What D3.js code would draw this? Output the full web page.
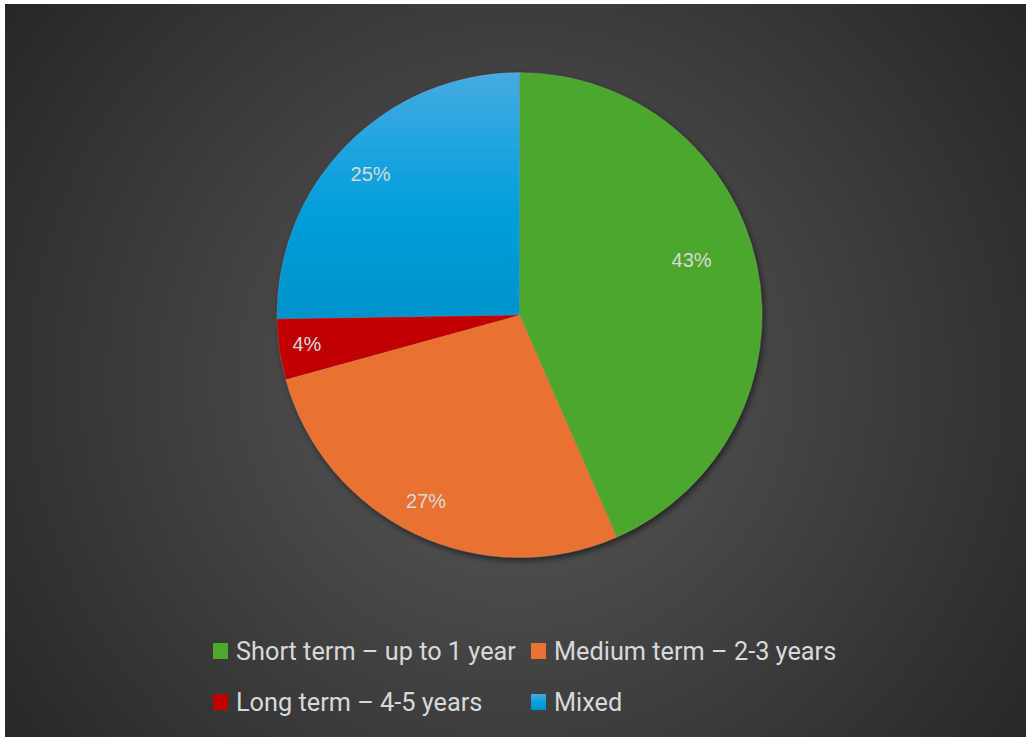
<!DOCTYPE html>
<html>
<head>
<meta charset="utf-8">
<script src="https://cdn.jsdelivr.net/npm/d3@7"></script>
<style>
  html, body { margin: 0; padding: 0; background: #ffffff; }
  svg { display: block; }
</style>
</head>
<body>
<svg id="chart" width="1026" height="737"></svg>
<script>
// Investment horizon shares
const categories = [
  "Short term \u2013 up to 1 year",
  "Medium term \u2013 2-3 years",
  "Long term \u2013 4-5 years",
  "Mixed"
];
const shares = [43, 27, 4, 25];
const labelSuffix = "%";

const W = 1026, H = 737;
const svg = d3.select("#chart");
const defs = svg.append("defs");

// dark radial backdrop
const bg = defs.append("radialGradient")
  .attr("id", "bgGrad")
  .attr("gradientUnits", "userSpaceOnUse")
  .attr("cx", 515).attr("cy", 380).attr("r", 640);
bg.append("stop").attr("offset", 0).attr("stop-color", "#5a5a5a");
bg.append("stop").attr("offset", 1).attr("stop-color", "#262626");

// blue slice shading, lighter at the top
const blue = defs.append("linearGradient")
  .attr("id", "blueGrad")
  .attr("x1", 0).attr("y1", 0).attr("x2", 0).attr("y2", 1);
blue.append("stop").attr("offset", 0).attr("stop-color", "#46aae2");
blue.append("stop").attr("offset", 0.5).attr("stop-color", "#07a0dd");
blue.append("stop").attr("offset", 1).attr("stop-color", "#0093cc");

// soft shadow under the pie
const shadow = defs.append("filter").attr("id", "pieShadow")
  .attr("x", "-10%").attr("y", "-10%").attr("width", "120%").attr("height", "120%");
shadow.append("feDropShadow")
  .attr("dx", 2).attr("dy", 3).attr("stdDeviation", 3)
  .attr("flood-color", "#000").attr("flood-opacity", 0.55);

svg.append("rect")
  .attr("x", 5).attr("y", 4)
  .attr("width", W - 5).attr("height", H - 4)
  .attr("fill", "url(#bgGrad)");

const color = d3.scaleOrdinal()
  .domain(categories)
  .range(["#4ea72e", "#e97132", "#c00000", "url(#blueGrad)"]);

const cx = 519.5, cy = 315, R = 242.5;

const pie = d3.pie().sort(null).value(d => d.value);
const arcs = pie(categories.map((c, i) => ({ name: c, value: shares[i] })));
const arc = d3.arc().innerRadius(0).outerRadius(R);

const g = svg.append("g").attr("transform", `translate(${cx},${cy})`);

g.append("g").attr("filter", "url(#pieShadow)")
  .selectAll("path")
  .data(arcs)
  .join("path")
  .attr("d", arc)
  .attr("fill", d => color(d.data.name))
  .attr("stroke", "rgba(255,255,255,0.15)")
  .attr("stroke-width", 0.6);

// best-fit style label placement: radius factor and angle shift per slice
const labelFit = [
  { r: 0.745, shift: -0.104 },
  { r: 0.86, shift: 0.02 },
  { r: 0.885, shift: 0.007 },
  { r: 0.845, shift: -0.02 }
];

g.selectAll("text.val")
  .data(arcs)
  .join("text")
  .attr("class", "val")
  .each(function (d, i) {
    const a = (d.startAngle + d.endAngle) / 2 + labelFit[i].shift;
    const rr = R * labelFit[i].r;
    d3.select(this)
      .attr("x", rr * Math.sin(a))
      .attr("y", -rr * Math.cos(a));
  })
  .attr("text-anchor", "middle")
  .attr("dominant-baseline", "central")
  .attr("font-family", "Liberation Sans, Arial, sans-serif")
  .attr("font-size", 20)
  .attr("fill", "#d9d9d9")
  .text(d => d.data.value + labelSuffix);

// legend, two columns
const legendCols = [213, 531];
const legendRows = [651, 702];
const legend = svg.append("g");
const items = legend.selectAll("g")
  .data(categories)
  .join("g")
  .attr("transform", (d, i) => `translate(${legendCols[i % 2]},${legendRows[Math.floor(i / 2)]})`);

items.append("rect")
  .attr("x", 0).attr("y", -8)
  .attr("width", 15).attr("height", 16)
  .attr("fill", d => color(d));

items.append("text")
  .attr("x", 23).attr("y", 0)
  .attr("dominant-baseline", "central")
  .attr("font-family", "Roboto, sans-serif")
  .attr("font-size", 25.3)
  .attr("fill", "#d9d9d9")
  .text(d => d);
</script>
</body>
</html>
